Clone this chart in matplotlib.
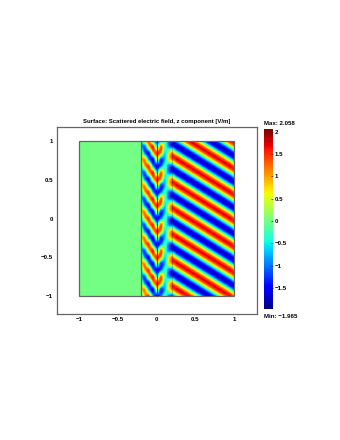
import numpy as np
import matplotlib
matplotlib.use('Agg')
import matplotlib.pyplot as plt
from matplotlib.patches import Rectangle

plt.rcParams['font.family'] = ['Liberation Sans', 'DejaVu Sans']

vmin = -1.965
vmax = 2.058
title = 'Surface: Scattered electric field, z component [V/m]'
xticks = [-1, -0.5, 0, 0.5, 1]
xticklabels = ['−1', '−0.5', '0', '0.5', '1']
yticks = [-1, -0.5, 0, 0.5, 1]
yticklabels = ['−1', '−0.5', '0', '0.5', '1']
cbar_ticks = [-1.5, -1, -0.5, 0, 0.5, 1, 1.5, 2]
cbar_labels = ['−1.5', '−1', '−0.5', '0', '0.5', '1', '1.5', '2']

# field, rows go from y=1 down to y=-1
left_field = [[0.0, 0.0], [0.0, 0.0]]

# x = -0.2 -0.15 -0.1 -0.05 0 0.05 0.1 0.15 0.2
mid_field = [
    [-0.53, 1.0, 1.36, -0.75, -1.55, -1.03, -0.25, -1.0, -1.3],
    [-0.85, -1.0, 0.85, 1.53, -0.35, 1.23, -0.1, -0.95, -1.25],
    [0.53, -1.0, -1.36, 0.75, 1.55, 1.03, -0.55, 0.6, 1.3],
    [0.85, 1.0, -0.85, -1.53, 0.35, -1.23, -0.7, 0.55, 1.25],
    [-0.53, 1.0, 1.36, -0.75, -1.55, -1.03, -0.25, -1.0, -1.3],
    [-0.85, -1.0, 0.85, 1.53, -0.35, 1.23, -0.1, -0.95, -1.25],
    [0.53, -1.0, -1.36, 0.75, 1.55, 1.03, -0.55, 0.6, 1.3],
    [0.85, 1.0, -0.85, -1.53, 0.35, -1.23, -0.7, 0.55, 1.25],
    [-0.53, 1.0, 1.36, -0.75, -1.55, -1.03, -0.25, -1.0, -1.3],
    [-0.85, -1.0, 0.85, 1.53, -0.35, 1.23, -0.1, -0.95, -1.25],
    [0.53, -1.0, -1.36, 0.75, 1.55, 1.03, -0.55, 0.6, 1.3],
    [0.85, 1.0, -0.85, -1.53, 0.35, -1.23, -0.7, 0.55, 1.25],
    [-0.53, 1.0, 1.36, -0.75, -1.55, -1.03, -0.25, -1.0, -1.3],
    [-0.85, -1.0, 0.85, 1.53, -0.35, 1.23, -0.1, -0.95, -1.25],
    [0.53, -1.0, -1.36, 0.75, 1.55, 1.03, -0.55, 0.6, 1.3],
    [0.85, 1.0, -0.85, -1.53, 0.35, -1.23, -0.7, 0.55, 1.25],
    [-0.53, 1.0, 1.36, -0.75, -1.55, -1.03, -0.25, -1.0, -1.3],
    [-0.85, -1.0, 0.85, 1.53, -0.35, 1.23, -0.1, -0.95, -1.25],
    [0.53, -1.0, -1.36, 0.75, 1.55, 1.03, -0.55, 0.6, 1.3],
    [0.85, 1.0, -0.85, -1.53, 0.35, -1.23, -0.7, 0.55, 1.25],
    [-0.53, 1.0, 1.36, -0.75, -1.55, -1.03, -0.25, -1.0, -1.3],
    [-0.85, -1.0, 0.85, 1.53, -0.35, 1.23, -0.1, -0.95, -1.25],
    [0.53, -1.0, -1.36, 0.75, 1.55, 1.03, -0.55, 0.6, 1.3],
    [0.85, 1.0, -0.85, -1.53, 0.35, -1.23, -0.7, 0.55, 1.25],
    [-0.53, 1.0, 1.36, -0.75, -1.55, -1.03, -0.25, -1.0, -1.3],
]

# x = 0.2 to 1 in 13 columns, 49 rows
right_field = [
    [-1.22, -0.03, 1.17, 1.7, 1.22, 0.03, -1.17, -1.7, -1.22, -0.03, 1.17, 1.7, 1.22],
    [-1.7, -1.22, -0.03, 1.17, 1.7, 1.22, 0.03, -1.17, -1.7, -1.22, -0.03, 1.17, 1.7],
    [-1.17, -1.7, -1.22, -0.03, 1.17, 1.7, 1.22, 0.03, -1.17, -1.7, -1.22, -0.03, 1.17],
    [0.03, -1.17, -1.7, -1.22, -0.03, 1.17, 1.7, 1.22, 0.03, -1.17, -1.7, -1.22, -0.03],
    [1.22, 0.03, -1.17, -1.7, -1.22, -0.03, 1.17, 1.7, 1.22, 0.03, -1.17, -1.7, -1.22],
    [1.7, 1.22, 0.03, -1.17, -1.7, -1.22, -0.03, 1.17, 1.7, 1.22, 0.03, -1.17, -1.7],
    [1.17, 1.7, 1.22, 0.03, -1.17, -1.7, -1.22, -0.03, 1.17, 1.7, 1.22, 0.03, -1.17],
    [-0.03, 1.17, 1.7, 1.22, 0.03, -1.17, -1.7, -1.22, -0.03, 1.17, 1.7, 1.22, 0.03],
    [-1.22, -0.03, 1.17, 1.7, 1.22, 0.03, -1.17, -1.7, -1.22, -0.03, 1.17, 1.7, 1.22],
    [-1.7, -1.22, -0.03, 1.17, 1.7, 1.22, 0.03, -1.17, -1.7, -1.22, -0.03, 1.17, 1.7],
    [-1.17, -1.7, -1.22, -0.03, 1.17, 1.7, 1.22, 0.03, -1.17, -1.7, -1.22, -0.03, 1.17],
    [0.03, -1.17, -1.7, -1.22, -0.03, 1.17, 1.7, 1.22, 0.03, -1.17, -1.7, -1.22, -0.03],
    [1.22, 0.03, -1.17, -1.7, -1.22, -0.03, 1.17, 1.7, 1.22, 0.03, -1.17, -1.7, -1.22],
    [1.7, 1.22, 0.03, -1.17, -1.7, -1.22, -0.03, 1.17, 1.7, 1.22, 0.03, -1.17, -1.7],
    [1.17, 1.7, 1.22, 0.03, -1.17, -1.7, -1.22, -0.03, 1.17, 1.7, 1.22, 0.03, -1.17],
    [-0.03, 1.17, 1.7, 1.22, 0.03, -1.17, -1.7, -1.22, -0.03, 1.17, 1.7, 1.22, 0.03],
    [-1.22, -0.03, 1.17, 1.7, 1.22, 0.03, -1.17, -1.7, -1.22, -0.03, 1.17, 1.7, 1.22],
    [-1.7, -1.22, -0.03, 1.17, 1.7, 1.22, 0.03, -1.17, -1.7, -1.22, -0.03, 1.17, 1.7],
    [-1.17, -1.7, -1.22, -0.03, 1.17, 1.7, 1.22, 0.03, -1.17, -1.7, -1.22, -0.03, 1.17],
    [0.03, -1.17, -1.7, -1.22, -0.03, 1.17, 1.7, 1.22, 0.03, -1.17, -1.7, -1.22, -0.03],
    [1.22, 0.03, -1.17, -1.7, -1.22, -0.03, 1.17, 1.7, 1.22, 0.03, -1.17, -1.7, -1.22],
    [1.7, 1.22, 0.03, -1.17, -1.7, -1.22, -0.03, 1.17, 1.7, 1.22, 0.03, -1.17, -1.7],
    [1.17, 1.7, 1.22, 0.03, -1.17, -1.7, -1.22, -0.03, 1.17, 1.7, 1.22, 0.03, -1.17],
    [-0.03, 1.17, 1.7, 1.22, 0.03, -1.17, -1.7, -1.22, -0.03, 1.17, 1.7, 1.22, 0.03],
    [-1.22, -0.03, 1.17, 1.7, 1.22, 0.03, -1.17, -1.7, -1.22, -0.03, 1.17, 1.7, 1.22],
    [-1.7, -1.22, -0.03, 1.17, 1.7, 1.22, 0.03, -1.17, -1.7, -1.22, -0.03, 1.17, 1.7],
    [-1.17, -1.7, -1.22, -0.03, 1.17, 1.7, 1.22, 0.03, -1.17, -1.7, -1.22, -0.03, 1.17],
    [0.03, -1.17, -1.7, -1.22, -0.03, 1.17, 1.7, 1.22, 0.03, -1.17, -1.7, -1.22, -0.03],
    [1.22, 0.03, -1.17, -1.7, -1.22, -0.03, 1.17, 1.7, 1.22, 0.03, -1.17, -1.7, -1.22],
    [1.7, 1.22, 0.03, -1.17, -1.7, -1.22, -0.03, 1.17, 1.7, 1.22, 0.03, -1.17, -1.7],
    [1.17, 1.7, 1.22, 0.03, -1.17, -1.7, -1.22, -0.03, 1.17, 1.7, 1.22, 0.03, -1.17],
    [-0.03, 1.17, 1.7, 1.22, 0.03, -1.17, -1.7, -1.22, -0.03, 1.17, 1.7, 1.22, 0.03],
    [-1.22, -0.03, 1.17, 1.7, 1.22, 0.03, -1.17, -1.7, -1.22, -0.03, 1.17, 1.7, 1.22],
    [-1.7, -1.22, -0.03, 1.17, 1.7, 1.22, 0.03, -1.17, -1.7, -1.22, -0.03, 1.17, 1.7],
    [-1.17, -1.7, -1.22, -0.03, 1.17, 1.7, 1.22, 0.03, -1.17, -1.7, -1.22, -0.03, 1.17],
    [0.03, -1.17, -1.7, -1.22, -0.03, 1.17, 1.7, 1.22, 0.03, -1.17, -1.7, -1.22, -0.03],
    [1.22, 0.03, -1.17, -1.7, -1.22, -0.03, 1.17, 1.7, 1.22, 0.03, -1.17, -1.7, -1.22],
    [1.7, 1.22, 0.03, -1.17, -1.7, -1.22, -0.03, 1.17, 1.7, 1.22, 0.03, -1.17, -1.7],
    [1.17, 1.7, 1.22, 0.03, -1.17, -1.7, -1.22, -0.03, 1.17, 1.7, 1.22, 0.03, -1.17],
    [-0.03, 1.17, 1.7, 1.22, 0.03, -1.17, -1.7, -1.22, -0.03, 1.17, 1.7, 1.22, 0.03],
    [-1.22, -0.03, 1.17, 1.7, 1.22, 0.03, -1.17, -1.7, -1.22, -0.03, 1.17, 1.7, 1.22],
    [-1.7, -1.22, -0.03, 1.17, 1.7, 1.22, 0.03, -1.17, -1.7, -1.22, -0.03, 1.17, 1.7],
    [-1.17, -1.7, -1.22, -0.03, 1.17, 1.7, 1.22, 0.03, -1.17, -1.7, -1.22, -0.03, 1.17],
    [0.03, -1.17, -1.7, -1.22, -0.03, 1.17, 1.7, 1.22, 0.03, -1.17, -1.7, -1.22, -0.03],
    [1.22, 0.03, -1.17, -1.7, -1.22, -0.03, 1.17, 1.7, 1.22, 0.03, -1.17, -1.7, -1.22],
    [1.7, 1.22, 0.03, -1.17, -1.7, -1.22, -0.03, 1.17, 1.7, 1.22, 0.03, -1.17, -1.7],
    [1.17, 1.7, 1.22, 0.03, -1.17, -1.7, -1.22, -0.03, 1.17, 1.7, 1.22, 0.03, -1.17],
    [-0.03, 1.17, 1.7, 1.22, 0.03, -1.17, -1.7, -1.22, -0.03, 1.17, 1.7, 1.22, 0.03],
    [-1.22, -0.03, 1.17, 1.7, 1.22, 0.03, -1.17, -1.7, -1.22, -0.03, 1.17, 1.7, 1.22],
]


def draw_block(ax, values, x0, x1):
    # samples sit on the block edges, so grow the extent half a cell and clip it back
    values = np.array(values)
    dx = (x1 - x0) / (values.shape[1] - 1)
    dy = 2.0 / (values.shape[0] - 1)
    # catrom goes through the samples, agg's bicubic flattens the peaks
    im = ax.imshow(values, cmap='jet', vmin=vmin, vmax=vmax, aspect='auto',
                   interpolation='catrom', interpolation_stage='data',
                   extent=(x0 - dx / 2, x1 + dx / 2, -1 - dy / 2, 1 + dy / 2))
    im.set_clip_path(Rectangle((x0, -1), x1 - x0, 2, transform=ax.transData))
    return im


W, H = 340, 440
fig = plt.figure(figsize=(W / 100, H / 100), dpi=100)
ax = fig.add_axes([56.7 / W, 1 - 314 / H, 200 / W, 187 / H])

im = draw_block(ax, left_field, -1, -0.2)
draw_block(ax, mid_field, -0.2, 0.2)
draw_block(ax, right_field, 0.2, 1)

gray = '#666666'
ax.add_patch(Rectangle((-1, -1), 2, 2, fill=False, ec=gray, lw=0.9))
ax.plot([-0.2, -0.2], [-1, 1], color=gray, lw=0.9)
ax.plot([0, 0], [-1, 1], color='#333333', lw=0.6)
ax.plot([0.2, 0.2], [-1, 1], color='#553333', lw=0.4, alpha=0.5)

ax.set_xlim(-1.285, 1.29)
ax.set_ylim(-1.23, 1.18)
ax.set_xticks(xticks)
ax.set_xticklabels(xticklabels, fontweight='bold')
ax.set_yticks(yticks)
ax.set_yticklabels(yticklabels, fontweight='bold')
ax.tick_params(length=0, labelsize=4.4, pad=2.5)
for s in ax.spines.values():
    s.set_color(gray)
    s.set_linewidth(0.9)
ax.set_title(title, fontsize=4.35, fontweight='bold', pad=3)

cax = fig.add_axes([264.3 / W, 1 - 309 / H, 9 / W, 180 / H])
cb = fig.colorbar(im, cax=cax, ticks=cbar_ticks)
cb.ax.set_yticklabels(cbar_labels, fontweight='bold')
cb.ax.tick_params(length=1.2, width=0.4, labelsize=4.4, pad=1, direction='in', right=True)
cb.outline.set_visible(False)

fig.text(264 / W, 1 - 123.5 / H, 'Max: 2.058', fontsize=4.4, fontweight='bold', va='center')
fig.text(264 / W, 1 - 316.5 / H, 'Min: −1.965', fontsize=4.4, fontweight='bold', va='center')

fig.savefig('out.png', dpi=100)
